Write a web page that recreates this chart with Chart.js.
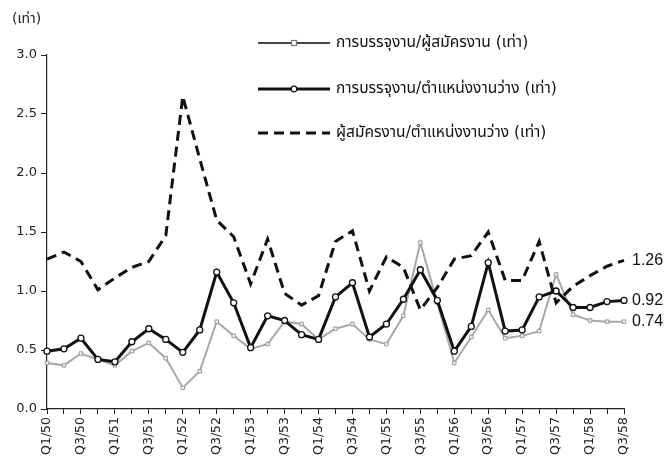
<!DOCTYPE html>
<html>
<head>
<meta charset="utf-8">
<script src="https://cdn.jsdelivr.net/npm/chart.js@4.4.1/dist/chart.umd.min.js"></script>
<style>
  html, body { margin: 0; padding: 0; background: #ffffff; }
  #wrap { position: relative; width: 667px; height: 468px; }
  canvas { display: block; }
</style>
</head>
<body>
<div id="wrap"><canvas id="c" width="667" height="468"></canvas></div>
<script>
const categories = [
  'Q1/50','Q2/50','Q3/50','Q4/50',
  'Q1/51','Q2/51','Q3/51','Q4/51',
  'Q1/52','Q2/52','Q3/52','Q4/52',
  'Q1/53','Q2/53','Q3/53','Q4/53',
  'Q1/54','Q2/54','Q3/54','Q4/54',
  'Q1/55','Q2/55','Q3/55','Q4/55',
  'Q1/56','Q2/56','Q3/56','Q4/56',
  'Q1/57','Q2/57','Q3/57','Q4/57',
  'Q1/58','Q2/58','Q3/58'
];

const placementPerApplicant = [
  0.39, 0.37, 0.47, 0.42, 0.37, 0.49, 0.56, 0.43, 0.18, 0.32,
  0.74, 0.62, 0.51, 0.55, 0.74, 0.72, 0.59, 0.68, 0.72, 0.59,
  0.55, 0.79, 1.41, 0.90, 0.39, 0.61, 0.84, 0.60, 0.62, 0.66,
  1.14, 0.80, 0.75, 0.74, 0.74
];

const placementPerVacancy = [
  0.49, 0.51, 0.60, 0.42, 0.40, 0.57, 0.68, 0.59, 0.48, 0.67,
  1.16, 0.90, 0.52, 0.79, 0.75, 0.63, 0.59, 0.95, 1.07, 0.61,
  0.72, 0.93, 1.18, 0.92, 0.49, 0.70, 1.24, 0.66, 0.67, 0.95,
  1.00, 0.86, 0.86, 0.91, 0.92
];

const applicantPerVacancy = [
  1.27, 1.33, 1.25, 1.01, 1.11, 1.20, 1.25, 1.47, 2.65, 2.12,
  1.60, 1.46, 1.06, 1.44, 0.98, 0.88, 0.96, 1.42, 1.51, 1.00,
  1.29, 1.20, 0.84, 1.03, 1.27, 1.30, 1.50, 1.09, 1.09, 1.42,
  0.90, 1.04, 1.13, 1.21, 1.26
];

const seriesNames = [
  'การบรรจุงาน/ผู้สมัครงาน (เท่า)',
  'การบรรจุงาน/ตำแหน่งงานว่าง (เท่า)',
  'ผู้สมัครงาน/ตำแหน่งงานว่าง (เท่า)'
];

const yTicks = [0, 0.5, 1.0, 1.5, 2.0, 2.5, 3.0];
const unitLabel = '(เท่า)';

const FONT = '"DejaVu Sans", "Noto Sans", "Noto Sans Thai", Tahoma, sans-serif';
const END_FONT = '"Liberation Sans", Arial, sans-serif';

const overlayPlugin = {
  id: 'overlay',
  afterDraw(chart) {
    const ctx = chart.ctx;
    const xs = chart.scales.x, ys = chart.scales.y;
    ctx.save();
    // unit label
    ctx.fillStyle = '#222';
    ctx.font = '14px ' + FONT;
    ctx.textAlign = 'left';
    ctx.textBaseline = 'middle';
    ctx.fillText(unitLabel, 12, 19);

    // end labels
    ctx.font = '16px ' + END_FONT;
    ctx.fillStyle = '#111';
    chart.data.datasets.forEach((ds, i) => {
      const last = ds.data.length - 1;
      const v = ds.data[last];
      const x = xs.getPixelForValue(last) + 8;
      const y = ys.getPixelForValue(v);
      ctx.fillText(v.toFixed(2), x, y);
    });

    // legend
    const rowsY = [43, 89, 133];
    const x0 = 258, x1 = 330;
    chart.data.datasets.forEach((ds, i) => {
      const y = rowsY[i];
      ctx.beginPath();
      ctx.strokeStyle = i === 0 ? '#444' : ds.borderColor;
      ctx.lineWidth = i === 0 ? 2 : ds.borderWidth;
      ctx.setLineDash(ds.borderDash || []);
      ctx.moveTo(x0, y);
      ctx.lineTo(x1, y);
      ctx.stroke();
      ctx.setLineDash([]);
      if (ds.pointRadius > 0) {
        const mx = (x0 + x1) / 2;
        ctx.lineWidth = 1.2;
        ctx.strokeStyle = i === 0 ? '#777' : '#111';
        ctx.fillStyle = '#fff';
        if (ds.pointStyle === 'rect') {
          ctx.fillRect(mx - 2.5, y - 2.5, 5, 5);
          ctx.strokeRect(mx - 2.5, y - 2.5, 5, 5);
        } else {
          ctx.beginPath();
          ctx.arc(mx, y, 2.8, 0, Math.PI * 2);
          ctx.fill();
          ctx.stroke();
        }
      }
      ctx.fillStyle = '#111';
      ctx.font = '15.5px ' + FONT;
      ctx.textAlign = 'left';
      ctx.textBaseline = 'middle';
      ctx.fillText(ds.label, 336, y);
    });
    ctx.restore();
  }
};

new Chart(document.getElementById('c'), {
  type: 'line',
  data: {
    labels: categories,
    datasets: [
      {
        label: seriesNames[0],
        data: placementPerApplicant,
        borderColor: '#a8a8a8',
        borderWidth: 2,
        pointStyle: 'rect',
        pointRadius: 2.5,
        pointBorderWidth: 1,
        pointBorderColor: '#999',
        pointBackgroundColor: '#eee',
        tension: 0,
        order: 3
      },
      {
        label: seriesNames[1],
        data: placementPerVacancy,
        borderColor: '#111111',
        borderWidth: 3,
        pointStyle: 'circle',
        pointRadius: 3,
        pointBorderWidth: 1.3,
        pointBorderColor: '#111',
        pointBackgroundColor: '#fff',
        tension: 0,
        order: 2
      },
      {
        label: seriesNames[2],
        data: applicantPerVacancy,
        borderColor: '#111111',
        borderWidth: 3,
        borderDash: [10, 6],
        pointRadius: 0,
        tension: 0,
        order: 1
      }
    ]
  },
  options: {
    responsive: false,
    animation: false,
    devicePixelRatio: 1,
    layout: { padding: { top: 55, right: 43, left: 0, bottom: 0 } },
    plugins: {
      legend: { display: false },
      tooltip: { enabled: false }
    },
    scales: {
      x: {
        type: 'category',
        offset: false,
        grid: {
          display: true,
          drawOnChartArea: false,
          drawTicks: true,
          tickLength: 5,
          color: '#222',
          lineWidth: 1
        },
        border: { display: true, color: '#222', width: 1.2 },
        ticks: {
          autoSkip: false,
          maxRotation: 90,
          minRotation: 90,
          padding: 3,
          color: '#222',
          font: { size: 12.5, family: FONT },
          callback: function(val, idx) {
            return idx % 2 === 0 ? categories[idx] : '';
          }
        },
        afterFit(scale) { scale.height = 59; }
      },
      y: {
        min: 0,
        max: 3,
        afterBuildTicks(scale) {
          scale.ticks = yTicks.map(v => ({ value: v }));
        },
        grid: {
          display: true,
          drawOnChartArea: false,
          drawTicks: true,
          tickLength: 6,
          color: '#222',
          lineWidth: 1
        },
        border: { display: true, color: '#222', width: 1.2 },
        ticks: {
          padding: 4,
          color: '#222',
          font: { size: 13, family: FONT },
          callback: v => Number(v).toFixed(1)
        },
        afterFit(scale) { scale.width = 47; }
      }
    }
  },
  plugins: [overlayPlugin]
});
</script>
</body>
</html>
